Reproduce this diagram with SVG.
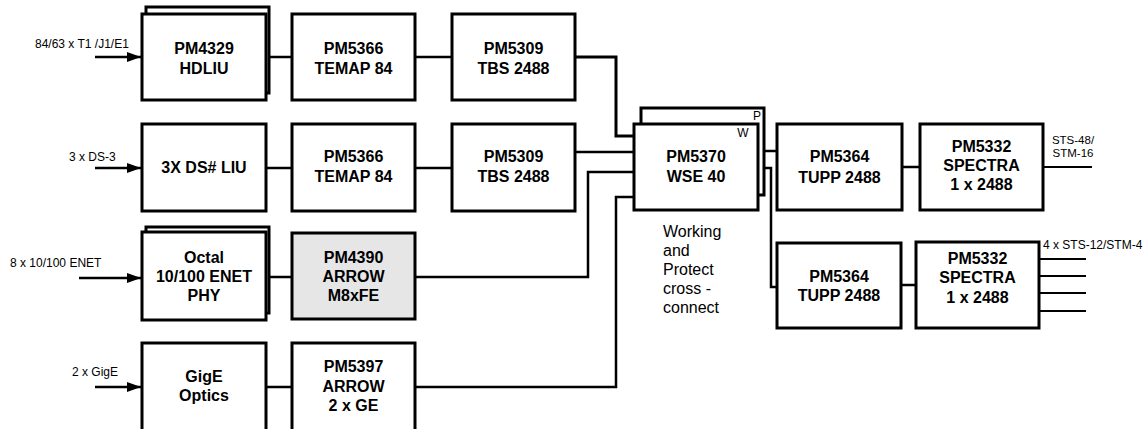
<svg xmlns="http://www.w3.org/2000/svg" width="1148" height="429" viewBox="0 0 1148 429">
<style>
.box{fill:#fff;stroke:#000;stroke-width:3}
.gray{fill:#e6e6e6}
.c{fill:none;stroke:#000;stroke-width:2.5}
.t{font-family:"Liberation Sans",Arial,sans-serif;font-size:16px;font-weight:bold;text-anchor:middle;fill:#000}
.s{font-family:"Liberation Sans",Arial,sans-serif;font-size:12px;fill:#000}
.m{font-family:"Liberation Sans",Arial,sans-serif;font-size:16px;fill:#000}
</style>
<defs>
<marker id="ah" viewBox="0 0 14 10" refX="14" refY="5" markerWidth="14" markerHeight="10" markerUnits="userSpaceOnUse" orient="auto">
<polygon points="0,0 14,5 0,10" fill="#000"/>
</marker>
</defs>
<rect width="1148" height="429" fill="#fff"/>

<g id="connectors">
<line class="c" x1="95" y1="57" x2="141" y2="57" marker-end="url(#ah)"/>
<line class="c" x1="95" y1="168" x2="141" y2="168" marker-end="url(#ah)"/>
<line class="c" x1="79" y1="278" x2="141" y2="278" marker-end="url(#ah)"/>
<line class="c" x1="95" y1="387" x2="141" y2="387" marker-end="url(#ah)"/>
<line class="c" x1="266" y1="57" x2="292" y2="57"/>
<line class="c" x1="415" y1="57" x2="452" y2="57"/>
<polyline class="c" style="stroke-width:3" points="575,57 616,57 616,136 634,136"/>
<line class="c" x1="266" y1="168" x2="292" y2="168"/>
<line class="c" x1="415" y1="168" x2="452" y2="168"/>
<line class="c" x1="575" y1="152" x2="634" y2="152"/>
<line class="c" x1="266" y1="277" x2="292" y2="277"/>
<polyline class="c" points="415,277 588,277 588,172 634,172"/>
<line class="c" x1="266" y1="387" x2="292" y2="387"/>
<polyline class="c" points="415,387 616,387 616,197 634,197"/>
<line class="c" x1="758" y1="151" x2="777" y2="151"/>
<polyline class="c" points="758,168 771,168 771,287 777,287"/>
<line class="c" x1="902" y1="167" x2="920" y2="167"/>
<line class="c" x1="901" y1="285" x2="916" y2="285"/>
<line class="c" style="stroke-width:2" x1="1043" y1="167" x2="1092" y2="167"/>
<line class="c" style="stroke-width:2" x1="1039" y1="259" x2="1086" y2="259"/>
<line class="c" style="stroke-width:2" x1="1039" y1="276" x2="1086" y2="276"/>
<line class="c" style="stroke-width:2" x1="1039" y1="293" x2="1086" y2="293"/>
<line class="c" style="stroke-width:2" x1="1039" y1="311" x2="1086" y2="311"/>
</g>

<g id="labels">
<text class="s" x="35" y="48">84/63 x T1 /J1/E1</text>
<text class="s" x="69" y="161">3 x DS-3</text>
<text class="s" x="10" y="267">8 x 10/100 ENET</text>
<text class="s" x="72" y="376">2 x GigE</text>
<text class="s" x="1073" y="144" text-anchor="middle" style="font-size:11.5px">STS-48/</text>
<text class="s" x="1073" y="157" text-anchor="middle" style="font-size:11.5px">STM-16</text>
<text class="s" x="1043" y="249">4 x STS-12/STM-4</text>
<text class="m" x="663" y="237">Working</text>
<text class="m" x="663" y="256">and</text>
<text class="m" x="663" y="275">Protect</text>
<text class="m" x="663" y="294">cross -</text>
<text class="m" x="663" y="313">connect</text>
</g>

<g id="hdliu">
<rect class="box" x="146" y="7" width="123" height="86"/>
<rect class="box" x="142" y="14" width="124" height="86"/>
<text class="t" x="204" y="53.5">PM4329</text>
<text class="t" x="204" y="73.5">HDLIU</text>
</g>
<g id="temap1">
<rect class="box" x="292" y="14" width="123" height="86"/>
<text class="t" x="353.5" y="53.5">PM5366</text>
<text class="t" x="353.5" y="73.5">TEMAP 84</text>
</g>
<g id="tbs1">
<rect class="box" x="452" y="14" width="123" height="86"/>
<text class="t" x="513.5" y="53.5">PM5309</text>
<text class="t" x="513.5" y="73.5">TBS 2488</text>
</g>
<g id="ds3liu">
<rect class="box" x="142" y="124" width="124" height="87"/>
<text class="t" x="204" y="173">3X DS# LIU</text>
</g>
<g id="temap2">
<rect class="box" x="292" y="124" width="123" height="87"/>
<text class="t" x="353.5" y="162">PM5366</text>
<text class="t" x="353.5" y="182">TEMAP 84</text>
</g>
<g id="tbs2">
<rect class="box" x="452" y="124" width="123" height="87"/>
<text class="t" x="513.5" y="162">PM5309</text>
<text class="t" x="513.5" y="182">TBS 2488</text>
</g>
<g id="octal">
<rect class="box" x="146" y="227" width="123" height="86"/>
<rect class="box" x="142" y="232" width="124" height="88"/>
<text class="t" x="204" y="263">Octal</text>
<text class="t" x="204" y="282">10/100 ENET</text>
<text class="t" x="204" y="301">PHY</text>
</g>
<g id="arrow-m8xfe">
<rect class="box gray" x="292" y="233" width="123" height="86"/>
<text class="t" x="353.5" y="263">PM4390</text>
<text class="t" x="353.5" y="282">ARROW</text>
<text class="t" x="353.5" y="301">M8xFE</text>
</g>
<g id="gige">
<rect class="box" x="142" y="343" width="124" height="92"/>
<text class="t" x="204" y="382">GigE</text>
<text class="t" x="204" y="401">Optics</text>
</g>
<g id="arrow-2ge">
<rect class="box" x="292" y="343" width="123" height="92"/>
<text class="t" x="353.5" y="372">PM5397</text>
<text class="t" x="353.5" y="392">ARROW</text>
<text class="t" x="353.5" y="411">2 x GE</text>
</g>
<g id="wse">
<rect class="box" x="641" y="108" width="123" height="87"/>
<text class="s" x="757" y="120" text-anchor="middle">P</text>
<rect class="box" x="634" y="124" width="124" height="86"/>
<text class="s" x="743" y="137" text-anchor="middle">W</text>
<text class="t" x="696" y="162">PM5370</text>
<text class="t" x="696" y="182">WSE 40</text>
</g>
<g id="tupp1">
<rect class="box" x="777" y="124" width="125" height="86"/>
<text class="t" x="839.5" y="162">PM5364</text>
<text class="t" x="839.5" y="182.5">TUPP 2488</text>
</g>
<g id="spectra1">
<rect class="box" x="920" y="124" width="123" height="86"/>
<text class="t" x="981.5" y="152">PM5332</text>
<text class="t" x="981.5" y="171">SPECTRA</text>
<text class="t" x="981.5" y="190">1 x 2488</text>
</g>
<g id="tupp2">
<rect class="box" x="777" y="243" width="124" height="85"/>
<text class="t" x="839" y="281.5">PM5364</text>
<text class="t" x="839" y="301">TUPP 2488</text>
</g>
<g id="spectra2">
<rect class="box" x="916" y="242" width="123" height="86"/>
<text class="t" x="977.5" y="264">PM5332</text>
<text class="t" x="977.5" y="283">SPECTRA</text>
<text class="t" x="977.5" y="303">1 x 2488</text>
</g>
</svg>
